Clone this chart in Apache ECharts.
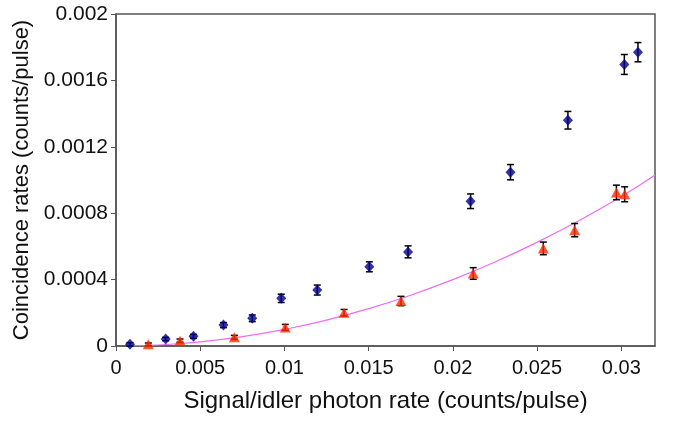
<!DOCTYPE html>
<html>
<head>
<meta charset="utf-8">
<script src="https://cdn.jsdelivr.net/npm/echarts@6/dist/echarts.min.js"></script>
<style>
html,body{margin:0;padding:0;background:#fff;}
#chart{width:675px;height:422px;}
</style>
</head>
<body>
<div id="chart"></div>
<script>
// ---- Data ----
const blueX = [0.00083, 0.00295, 0.0046, 0.00638, 0.00809, 0.00981, 0.01195, 0.01504, 0.01734, 0.02105, 0.02342, 0.02683, 0.03018, 0.03099];
const blueY = [0.00001, 0.000042, 0.000058, 0.000126, 0.000167, 0.000287, 0.000337, 0.000477, 0.000567, 0.000872, 0.001047, 0.00136, 0.001696, 0.00177];
const blueErr = [0.00001, 0.00001, 0.000012, 0.000015, 0.00002, 0.000025, 0.00003, 0.00003, 0.000036, 0.000044, 0.000046, 0.000053, 0.00006, 0.000058];

const redX = [0.00192, 0.0038, 0.00703, 0.01005, 0.01354, 0.01692, 0.02121, 0.02537, 0.02723, 0.02971, 0.0302];
const redY = [0.00001, 0.000032, 0.000052, 0.000112, 0.0002, 0.000271, 0.000437, 0.000588, 0.000698, 0.000925, 0.000914];
const redErr = [0.000008, 0.00001, 0.000012, 0.000018, 0.00002, 0.000028, 0.000035, 0.000038, 0.00004, 0.000044, 0.000045];

const fitX = [0.001, 0.0025, 0.005, 0.0075, 0.01, 0.0125, 0.015, 0.0175, 0.02, 0.0225, 0.025, 0.0275, 0.03, 0.032];
const fitY = [0.000001, 0.000006, 0.000025, 0.000056, 0.0001, 0.000156, 0.000225, 0.000306, 0.0004, 0.000506, 0.000625, 0.000756, 0.0009, 0.00103];

const xTicks = [0, 0.005, 0.01, 0.015, 0.02, 0.025, 0.03];
const xTickLabels = ['0', '0.005', '0.01', '0.015', '0.02', '0.025', '0.03'];
const yTicks = [0, 0.0004, 0.0008, 0.0012, 0.0016, 0.002];
const yTickLabels = ['0', '0.0004', '0.0008', '0.0012', '0.0016', '0.002'];

const xName = 'Signal/idler photon rate (counts/pulse)';
const yName = 'Coincidence rates (counts/pulse)';

// ---- Build ----
const zip = (a, b) => a.map((v, i) => [v, b[i]]);
const errData = (xs, ys, es) => xs.map((v, i) => [v, ys[i] - es[i], ys[i] + es[i]]);

function errorBar(params, api) {
  const x = api.value(0);
  const lo = api.coord([x, api.value(1)]);
  const hi = api.coord([x, api.value(2)]);
  const cap = 3.5;
  const style = { stroke: '#000', lineWidth: 1.5 };
  return {
    type: 'group',
    children: [
      { type: 'line', shape: { x1: lo[0], y1: lo[1], x2: hi[0], y2: hi[1] }, style },
      { type: 'line', shape: { x1: lo[0] - cap, y1: lo[1], x2: lo[0] + cap, y2: lo[1] }, style },
      { type: 'line', shape: { x1: hi[0] - cap, y1: hi[1], x2: hi[0] + cap, y2: hi[1] }, style }
    ]
  };
}

const font = "'Liberation Sans', Arial, Helvetica, sans-serif";
const chart = echarts.init(document.getElementById('chart'), null, { renderer: 'canvas' });
const xLabelMap = new Map(xTicks.map((v, i) => [v.toFixed(4), xTickLabels[i]]));
const yLabelMap = new Map(yTicks.map((v, i) => [v.toFixed(5), yTickLabels[i]]));

chart.setOption({
  animation: false,
  backgroundColor: '#fff',
  grid: {
    left: 116, right: 20, top: 14, bottom: 76,
    show: true, borderColor: '#555', borderWidth: 1.5, backgroundColor: 'transparent'
  },
  xAxis: {
    type: 'value', min: 0, max: 0.032,
    name: xName, nameLocation: 'middle', nameGap: 43,
    nameTextStyle: { fontFamily: font, fontSize: 24, color: '#111' },
    axisLine: { show: true, onZero: false, lineStyle: { color: '#555', width: 1.5 } },
    axisTick: { show: true, inside: false, length: 5, customValues: xTicks, lineStyle: { color: '#555' } },
    axisLabel: {
      customValues: xTicks, margin: 12, fontFamily: font, fontSize: 20, color: '#111',
      formatter: v => xLabelMap.get(v.toFixed(4)) ?? ''
    },
    splitLine: { show: false }
  },
  yAxis: {
    type: 'value', min: 0, max: 0.002,
    name: yName, nameLocation: 'middle', nameGap: 81, nameRotate: 90,
    nameTextStyle: { fontFamily: font, fontSize: 22, color: '#111' },
    axisLine: { show: true, onZero: false, lineStyle: { color: '#555', width: 1.5 } },
    axisTick: { show: true, inside: false, length: 5, customValues: yTicks, lineStyle: { color: '#555' } },
    axisLabel: {
      customValues: yTicks, margin: 8, fontFamily: font, fontSize: 21, color: '#111',
      formatter: v => yLabelMap.get(v.toFixed(5)) ?? ''
    },
    splitLine: { show: false }
  },
  series: [
    {
      type: 'line', data: zip(fitX, fitY), smooth: true, showSymbol: false, symbol: 'none',
      lineStyle: { color: '#f06cf0', width: 1.2 }, z: 1
    },
    { type: 'custom', data: errData(blueX, blueY, blueErr), renderItem: errorBar, z: 2 },
    { type: 'custom', data: errData(redX, redY, redErr), renderItem: errorBar, z: 2 },
    {
      type: 'scatter', data: zip(blueX, blueY), symbol: 'diamond', symbolSize: [10, 11],
      itemStyle: { color: '#00008b' }, z: 3
    },
    {
      type: 'scatter', data: zip(redX, redY), symbol: 'triangle', symbolSize: [11, 10],
      itemStyle: { color: '#ff2a00' }, z: 3
    }
  ]
});
</script>
</body>
</html>
